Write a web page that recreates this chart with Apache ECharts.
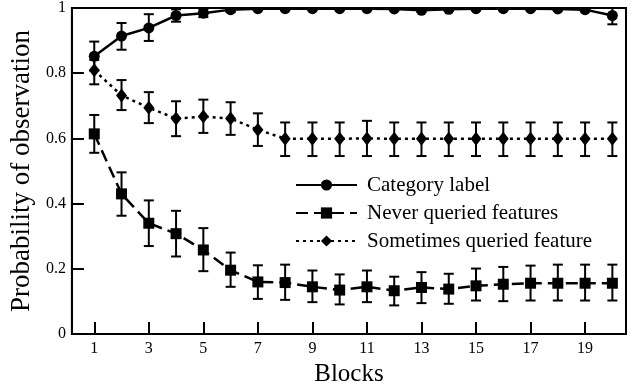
<!DOCTYPE html>
<html>
<head>
<meta charset="utf-8">
<script src="https://cdn.jsdelivr.net/npm/echarts@6/dist/echarts.min.js"></script>
<style>html,body{margin:0;padding:0;background:#fff;}#c{width:628px;height:392px;}</style>
</head>
<body>
<div id="c"></div>
<script>
const blocks = [1,2,3,4,5,6,7,8,9,10,11,12,13,14,15,16,17,18,19,20];
const xTicks = [1,3,5,7,9,11,13,15,17,19];

const catMean = [0.852,0.914,0.939,0.977,0.984,0.995,0.998,0.998,0.998,0.998,0.998,0.997,0.993,0.996,0.998,0.998,0.998,0.997,0.995,0.977];
const catLow  = [0.808,0.872,0.899,0.958,0.972,0.988,0.994,0.994,0.994,0.994,0.994,0.993,0.988,0.991,0.994,0.994,0.994,0.993,0.990,0.950];
const catHigh = [0.897,0.954,0.981,0.996,0.996,1.000,1.000,1.000,1.000,1.000,1.000,1.000,0.998,1.000,1.000,1.000,1.000,1.000,1.000,1.000];

const neverMean = [0.614,0.430,0.340,0.308,0.258,0.196,0.160,0.158,0.145,0.135,0.145,0.133,0.143,0.138,0.148,0.153,0.156,0.156,0.156,0.156];
const neverLow  = [0.556,0.363,0.270,0.238,0.193,0.145,0.108,0.105,0.098,0.091,0.098,0.088,0.095,0.093,0.103,0.101,0.103,0.103,0.103,0.103];
const neverHigh = [0.672,0.496,0.410,0.378,0.325,0.250,0.211,0.213,0.195,0.183,0.195,0.176,0.190,0.185,0.201,0.206,0.210,0.213,0.213,0.213];

const someMean = [0.809,0.732,0.694,0.661,0.667,0.661,0.627,0.599,0.599,0.599,0.600,0.599,0.599,0.599,0.599,0.599,0.599,0.599,0.599,0.599];
const someLow  = [0.766,0.687,0.647,0.607,0.617,0.611,0.577,0.546,0.546,0.546,0.546,0.546,0.546,0.546,0.546,0.546,0.546,0.546,0.546,0.546];
const someHigh = [0.841,0.779,0.742,0.714,0.719,0.711,0.677,0.649,0.649,0.649,0.654,0.649,0.649,0.649,0.649,0.649,0.649,0.649,0.649,0.649];

const names = ['Category label','Never queried features','Sometimes queried feature'];

const FONT = '"Liberation Serif", "DejaVu Serif", serif';

function errItem(params, api) {
  const x = api.value(0), lo = api.value(1), hi = api.value(2);
  const a = api.coord([x, lo]), b = api.coord([x, hi]);
  const w = 5;
  const st = {stroke:'#000', lineWidth:2};
  return {type:'group', children:[
    {type:'line', shape:{x1:a[0],y1:a[1],x2:b[0],y2:b[1]}, style:st},
    {type:'line', shape:{x1:a[0]-w,y1:a[1],x2:a[0]+w,y2:a[1]}, style:st},
    {type:'line', shape:{x1:b[0]-w,y1:b[1],x2:b[0]+w,y2:b[1]}, style:st}
  ]};
}
function errSeries(low, high) {
  return {type:'custom', renderItem: errItem, silent:true, z:1,
    data: blocks.map((b,i)=>[b, low[i], high[i]]), encode:{x:0, y:[1,2]}};
}
function pts(mean){ return blocks.map((b,i)=>[b, mean[i]]); }

const chart = echarts.init(document.getElementById('c'), null, {renderer:'canvas'});
chart.setOption({
  animation:false,
  backgroundColor:'#fff',
  grid:{left:70, right:2, top:8, bottom:51, show:true, borderColor:'#000', borderWidth:2, backgroundColor:'transparent'},
  legend:{
    orient:'vertical', left:295, top:174, padding:0, itemWidth:61, itemHeight:14, itemGap:6,
    data:names,
    textStyle:{fontFamily:FONT, fontSize:21, lineHeight:22, color:'#000', padding:[0,0,0,5]}
  },
  xAxis:{
    type:'value', min:0.18, max:20.5,
    name:'Blocks', nameLocation:'middle', nameGap:23,
    nameTextStyle:{fontFamily:FONT, fontSize:25, color:'#000'},
    axisLine:{lineStyle:{color:'#000', width:2}},
    axisTick:{inside:true, length:12, lineStyle:{color:'#000', width:2}, customValues:xTicks},
    axisLabel:{fontFamily:FONT, fontSize:16, color:'#000', margin:7, customValues:xTicks},
    splitLine:{show:false}
  },
  yAxis:{
    type:'value', min:0, max:1, interval:0.2,
    name:'Probability of observation', nameLocation:'middle', nameGap:29,
    nameTextStyle:{fontFamily:FONT, fontSize:27, color:'#000'},
    axisLine:{show:true, lineStyle:{color:'#000', width:2}},
    axisTick:{inside:true, length:12, lineStyle:{color:'#000', width:2}},
    axisLabel:{fontFamily:FONT, fontSize:16, color:'#000', margin:6},
    splitLine:{show:false}
  },
  graphic:[{type:'rect', z:100, shape:{x:71, y:0, width:556, height:7}, style:{fill:'#fff'}, silent:true}],
  series:[
    errSeries(catLow, catHigh),
    errSeries(neverLow, neverHigh),
    errSeries(someLow, someHigh),
    {name:names[0], type:'line', data:pts(catMean), symbol:'circle', symbolSize:11, z:3,
     lineStyle:{color:'#000', width:2.5, type:'solid'}, itemStyle:{color:'#000'}},
    {name:names[1], type:'line', data:pts(neverMean), symbol:'rect', symbolSize:11, z:3,
     lineStyle:{color:'#000', width:2.5, type:[12,6]}, itemStyle:{color:'#000'}},
    {name:names[2], type:'line', data:pts(someMean), symbol:'diamond', symbolSize:[11,14], z:3,
     lineStyle:{color:'#000', width:2.5, type:[3,4]}, itemStyle:{color:'#000'}}
  ]
});
</script>
</body>
</html>
